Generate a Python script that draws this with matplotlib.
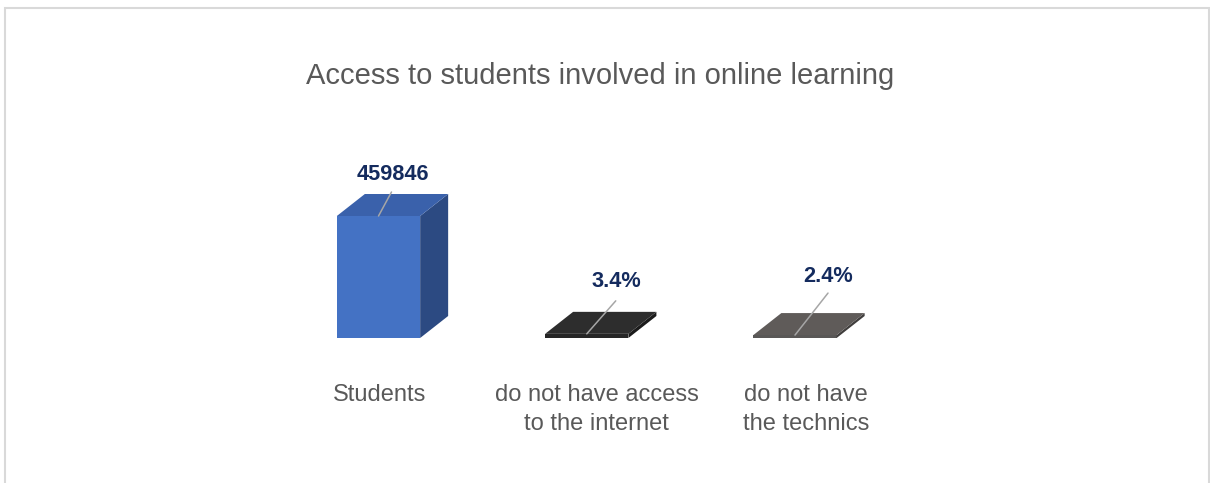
import matplotlib
matplotlib.use("Agg")
import matplotlib.pyplot as plt
import matplotlib.transforms as mtransforms
from matplotlib.patches import Polygon, Rectangle

# data
categories = ["Students", "do not have access\nto the internet", "do not have\nthe technics"]
students_total = 459846
shares = [100.0, 3.4, 2.4]          # percent of all students
value_labels = ["459846", "3.4%", "2.4%"]

front_colors = ["#4472C4", "#262626", "#595756"]
top_colors = ["#3A61AB", "#2D2D2D", "#5F5B59"]
side_colors = ["#2C4A82", "#1B1B1B", "#403E3D"]

# label / leader-line offsets in pixels from the top front edge of each bar
line_offsets = [(13, 24), (29, 33), (33, 42)]
text_offsets = [(14, 41), (30, 52), (33, 59)]
cat_shift = [1, 10, 11]             # category labels sit a bit right of the bars

values = [students_total * s / 100 for s in shares]

W, H = 1210, 483
fig = plt.figure(figsize=(W / 100, H / 100), dpi=100)

ax_left, ax_right = 170.25, 1003.25
base_px = 338                      # baseline, pixels from top
ax_h = 200
ax = fig.add_axes([ax_left / W, (H - base_px) / H, (ax_right - ax_left) / W, ax_h / H])
ymax = values[0] * ax_h / 122
ax.set_xlim(-1, 3)
ax.set_ylim(0, ymax)

px_x = (ax_right - ax_left) / 4
px_y = ax_h / ymax
dx = 28 / px_x
dy = 22 / px_y
bw = 0.4

xs = list(range(len(categories)))
ax.bar(xs, values, width=bw, color=front_colors, zorder=2)

for x, v, tc, sc in zip(xs, values, top_colors, side_colors):
    l, r = x - bw / 2, x + bw / 2
    top = Polygon([(l, v), (r, v), (r + dx, v + dy), (l + dx, v + dy)],
                  closed=True, facecolor=tc, edgecolor="none", zorder=3, clip_on=False)
    side = Polygon([(r, 0), (r + dx, dy), (r + dx, v + dy), (r, v)],
                   closed=True, facecolor=sc, edgecolor="none", zorder=3, clip_on=False)
    ax.add_patch(side)
    ax.add_patch(top)

for x, v, lab, lo, to in zip(xs, values, value_labels, line_offsets, text_offsets):
    ax.annotate("", xy=(x, v), xytext=lo, textcoords="offset pixels",
                arrowprops=dict(arrowstyle="-", color="#A6A6A6", lw=1.1,
                                shrinkA=0, shrinkB=0), zorder=4)
    ax.annotate(lab, xy=(x, v), xytext=to, textcoords="offset pixels",
                ha="center", va="center", fontsize=15.7, fontweight="bold",
                family="Liberation Sans", color="#142B5E", zorder=5)

ax.set_xticks(xs)
ax.set_xticklabels(categories, family="Liberation Sans", fontsize=17, color="#595959",
                   linespacing=1.4)
ax.tick_params(axis="x", length=0, pad=33)
for t, sh in zip(ax.get_xticklabels(), cat_shift):
    t.set_transform(t.get_transform() + mtransforms.Affine2D().translate(sh, 0))
ax.set_yticks([])
for s in ax.spines.values():
    s.set_visible(False)
ax.patch.set_alpha(0)

fig.text(600.5 / W, (H - 84) / H, "Access to students involved in online learning",
         ha="center", va="baseline", fontsize=21, family="Liberation Sans", color="#595959")

# chart frame (bottom edge is cut off in the reference)
fig.patches.append(Rectangle((4.5 / W, -0.1), (1209.3 - 4.5) / W, (H - 8) / H + 0.1,
                             transform=fig.transFigure, fill=False,
                             edgecolor="#D9D9D9", lw=1.5))

fig.savefig("out.png", dpi=100)
